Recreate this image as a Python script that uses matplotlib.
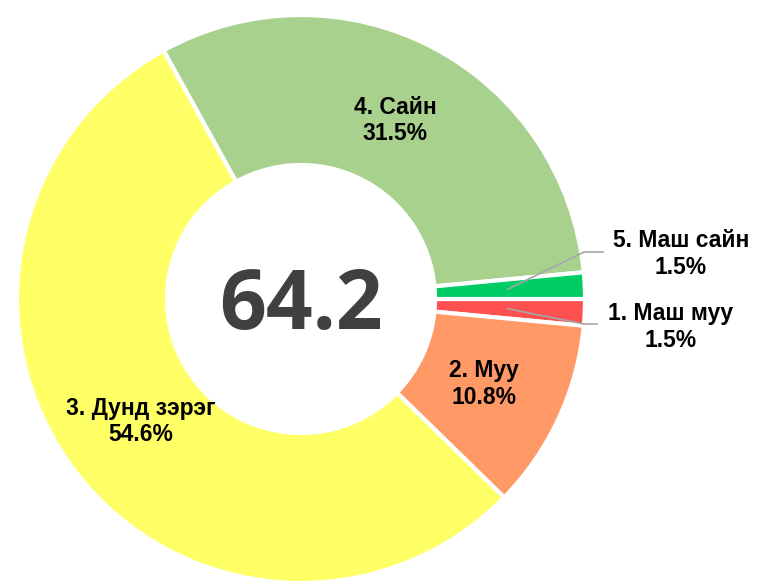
import numpy as np
import matplotlib
matplotlib.use("Agg")
import matplotlib.pyplot as plt

# Survey answer shares (clockwise from 3 o'clock)
labels = ["1. Маш муу", "2. Муу", "3. Дунд зэрэг", "4. Сайн", "5. Маш сайн"]
shares = [1.5, 10.8, 54.6, 31.5, 1.5]
colors = ["#FF5050", "#FF9966", "#FFFF66", "#A9D18E", "#00CC66"]
center_value = "64.2"

W, H = 757, 584
fig = plt.figure(figsize=(W / 100, H / 100), dpi=100)
ax = fig.add_axes([0, 0, 1, 1])

cx, cy = 301, 584 - 299
R = 284
ring = 150

wedges, _ = ax.pie(shares, colors=colors, startangle=0, counterclock=False,
                   radius=R, center=(cx, cy), frame=True,
                   wedgeprops=dict(width=ring, edgecolor="white", linewidth=3))
ax.set_xlim(0, W)
ax.set_ylim(0, H)
ax.set_aspect("equal")
ax.axis("off")

lab_font = dict(fontsize=16.5, fontweight="bold", family="Liberation Sans",
                ha="center", va="center", color="black", linespacing=1.2)

# outside label placement for the two thin slices: (text x, text y, elbow y, elbow end x)
outside = {0: (671, 584 - 327, 584 - 324, 597), 4: (681, 584 - 254, 584 - 252, 603)}

for i, w in enumerate(wedges):
    mid = np.deg2rad((w.theta1 + w.theta2) / 2)
    txt = f"{labels[i]}\n{shares[i]:.1f}%"
    if i in outside:
        tx, ty, ey, ex = outside[i]
        r0 = R - ring / 2 - 2
        px, py = cx + r0 * np.cos(mid), cy + r0 * np.sin(mid)
        ax.plot([px, cx + R - 1, ex], [py, ey, ey], color="#A6A6A6", lw=1.2)
        ax.text(tx, ty, txt, **lab_font)
    else:
        r0 = R - ring / 2 - 7
        ax.text(cx + r0 * np.cos(mid), cy + r0 * np.sin(mid), txt, **lab_font)

ax.text(cx, cy - 9, center_value, fontsize=59, fontweight="bold",
        family="Open Sans", color="#404040", ha="center", va="center")

fig.savefig("out.png", dpi=100)
